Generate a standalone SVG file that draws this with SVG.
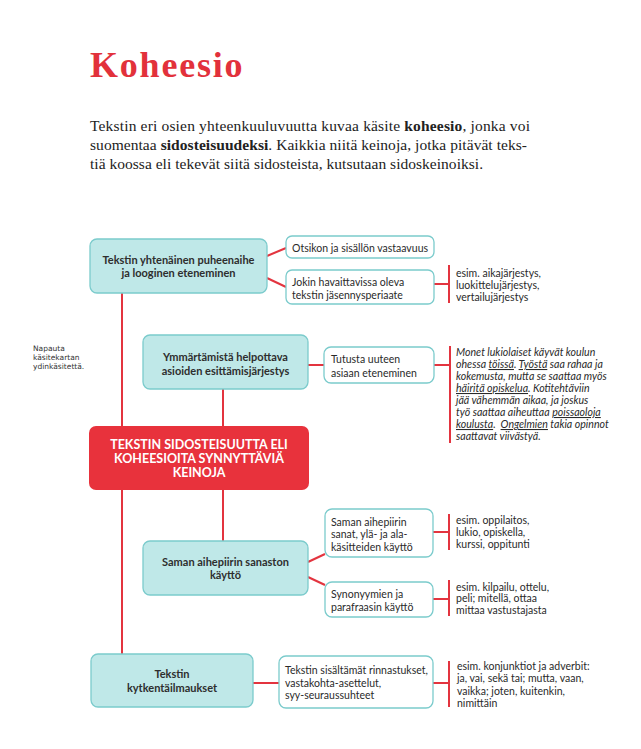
<svg xmlns="http://www.w3.org/2000/svg" width="641" height="749" viewBox="0 0 641 749">
<style>
.title{font-family:"Liberation Serif",serif;font-weight:bold;font-size:36px;fill:#e2313b;letter-spacing:1.8px}
.para{font-family:"Liberation Serif",serif;font-size:15.5px;fill:#222}
.para .b{font-weight:bold}
.main{fill:#bfe8e8;stroke:#7bcbcc;stroke-width:1.3}
.sub{fill:#fff;stroke:#7bcbcc;stroke-width:1.3}
.core{fill:#e8323c}
.mt{font-family:Lato,"Noto Sans",sans-serif;font-weight:bold;font-size:11px;fill:#2e2e2e;text-anchor:middle}
.ct{font-family:Lato,"Noto Sans",sans-serif;font-weight:bold;font-size:12.5px;fill:#fff;text-anchor:middle}
.st{font-family:Lato,"Noto Sans",sans-serif;font-size:10.5px;fill:#2a2a2a}
.it{font-family:Lato,"Noto Sans",sans-serif;font-style:italic;font-size:10.6px;fill:#2a2a2a}
.u{text-decoration:underline}
.note{font-family:"DejaVu Sans",sans-serif;font-size:7.5px;fill:#333}
.ln{stroke:#e3343f;stroke-width:2;fill:none}
</style>

<text class="title" x="90" y="77">Koheesio</text>
<g id="intro">
<text class="para" x="90" y="131" textLength="440" lengthAdjust="spacing">Tekstin eri osien yhteenkuuluvuutta kuvaa käsite <tspan class="b">koheesio</tspan>, jonka voi</text>
<text class="para" x="90" y="150" textLength="437" lengthAdjust="spacing">suomentaa <tspan class="b">sidosteisuudeksi</tspan>. Kaikkia niitä keinoja, jotka pitävät teks-</text>
<text class="para" x="90" y="169" textLength="393" lengthAdjust="spacing">tiä koossa eli tekevät siitä sidosteista, kutsutaan sidoskeinoiksi.</text>
</g>

<g id="connectors">
<line class="ln" x1="122" y1="293" x2="122" y2="654"/>
<line class="ln" x1="223" y1="389" x2="223" y2="426"/>
<line class="ln" x1="223" y1="490" x2="223" y2="541"/>
<line class="ln" x1="267" y1="256" x2="286" y2="248"/>
<line class="ln" x1="267" y1="278" x2="286" y2="287"/>
<line class="ln" x1="434" y1="284" x2="449" y2="284"/>
<line class="ln" x1="449" y1="265" x2="449" y2="303"/>
<line class="ln" x1="308" y1="365" x2="324" y2="365"/>
<line class="ln" x1="434" y1="365" x2="450" y2="365"/>
<line class="ln" x1="450" y1="346" x2="450" y2="443"/>
<line class="ln" x1="308" y1="562" x2="325" y2="554"/>
<line class="ln" x1="308" y1="577" x2="325" y2="585"/>
<line class="ln" x1="433" y1="532" x2="449" y2="532"/>
<line class="ln" x1="449" y1="514" x2="449" y2="550"/>
<line class="ln" x1="433" y1="599" x2="449" y2="599"/>
<line class="ln" x1="449" y1="580" x2="449" y2="616"/>
<line class="ln" x1="253" y1="683" x2="279" y2="683"/>
<line class="ln" x1="433" y1="683" x2="449" y2="683"/>
<line class="ln" x1="449" y1="661" x2="449" y2="707"/>
</g>

<g id="note">
<text class="note" x="33" y="351">Napauta</text>
<text class="note" x="33" y="360">käsitekartan</text>
<text class="note" x="33" y="369">ydinkäsitettä.</text>
</g>

<g id="n-puheenaihe">
<rect class="main" x="90" y="239" width="177" height="54" rx="7"/>
<text class="mt" x="178.5" y="264">Tekstin yhtenäinen puheenaihe</text>
<text class="mt" x="178.5" y="277">ja looginen eteneminen</text>
</g>
<g id="n-otsikon">
<rect class="sub" x="286" y="236" width="148" height="22" rx="6"/>
<text class="st" x="292" y="251.5">Otsikon ja sisällön vastaavuus</text>
</g>
<g id="n-jokin">
<rect class="sub" x="286" y="270" width="148" height="34" rx="6"/>
<text class="st" x="292" y="285.5">Jokin havaittavissa oleva</text>
<text class="st" x="292" y="298.5">tekstin jäsennysperiaate</text>
</g>
<g id="e-jarjestys">
<text class="st" x="456" y="277">esim. aikajärjestys,</text>
<text class="st" x="456" y="289">luokittelujärjestys,</text>
<text class="st" x="456" y="301">vertailujärjestys</text>
</g>

<g id="n-ymmartamista">
<rect class="main" x="143" y="335" width="165" height="54" rx="7"/>
<text class="mt" x="225.5" y="361">Ymmärtämistä helpottava</text>
<text class="mt" x="225.5" y="375">asioiden esittämisjärjestys</text>
</g>
<g id="n-tutusta">
<rect class="sub" x="324" y="347" width="110" height="36" rx="7"/>
<text class="st" x="331" y="362.5">Tutusta uuteen</text>
<text class="st" x="331" y="376.5">asiaan eteneminen</text>
</g>
<g id="e-esimerkki">
<text class="it" x="456" y="356">Monet lukiolaiset käyvät koulun</text>
<text class="it" x="456" y="368">ohessa <tspan class="u">töissä</tspan>. <tspan class="u">Työstä</tspan> saa rahaa ja</text>
<text class="it" x="456" y="380">kokemusta, mutta se saattaa myös</text>
<text class="it" x="456" y="392"><tspan class="u">häiritä opiskelua</tspan>. Kotitehtäviin</text>
<text class="it" x="456" y="404">jää vähemmän aikaa, ja joskus</text>
<text class="it" x="456" y="416">työ saattaa aiheuttaa <tspan class="u">poissaoloja</tspan></text>
<text class="it" x="456" y="428"><tspan class="u">koulusta</tspan>.&#160; <tspan class="u">Ongelmien</tspan> takia opinnot</text>
<text class="it" x="456" y="440">saattavat viivästyä.</text>
</g>

<g id="n-core">
<rect class="core" x="89" y="426" width="220" height="64" rx="7"/>
<text class="ct" x="199" y="449">TEKSTIN SIDOSTEISUUTTA ELI</text>
<text class="ct" x="199" y="463">KOHEESIOITA SYNNYTTÄVIÄ</text>
<text class="ct" x="199" y="477">KEINOJA</text>
</g>

<g id="n-sanasto">
<rect class="main" x="143" y="541" width="165" height="54" rx="7"/>
<text class="mt" x="225.5" y="566">Saman aihepiirin sanaston</text>
<text class="mt" x="225.5" y="579">käyttö</text>
</g>
<g id="n-sanat">
<rect class="sub" x="325" y="509" width="108" height="48" rx="7"/>
<text class="st" x="331" y="525.5">Saman aihepiirin</text>
<text class="st" x="331" y="538">sanat, ylä- ja ala-</text>
<text class="st" x="331" y="550.5">käsitteiden käyttö</text>
</g>
<g id="e-oppilaitos">
<text class="st" x="456" y="523.5">esim. oppilaitos,</text>
<text class="st" x="456" y="535.5">lukio, opiskella,</text>
<text class="st" x="456" y="547.5">kurssi, oppitunti</text>
</g>
<g id="n-synonyymit">
<rect class="sub" x="325" y="582" width="108" height="35" rx="7"/>
<text class="st" x="331" y="597.5">Synonyymien ja</text>
<text class="st" x="331" y="610.5">parafraasin käyttö</text>
</g>
<g id="e-kilpailu">
<text class="st" x="456" y="590.5">esim. kilpailu, ottelu,</text>
<text class="st" x="456" y="602">peli; mitellä, ottaa</text>
<text class="st" x="456" y="613.5">mittaa vastustajasta</text>
</g>

<g id="n-kytkenta">
<rect class="main" x="91" y="654" width="162" height="53" rx="7"/>
<text class="mt" x="172" y="678">Tekstin</text>
<text class="mt" x="172" y="692">kytkentäilmaukset</text>
</g>
<g id="n-rinnastukset">
<rect class="sub" x="279" y="656" width="154" height="52" rx="7"/>
<text class="st" x="285" y="673.5">Tekstin sisältämät rinnastukset,</text>
<text class="st" x="285" y="686.5">vastakohta-asettelut,</text>
<text class="st" x="285" y="699">syy-seuraussuhteet</text>
</g>
<g id="e-konjunktiot">
<text class="st" x="457" y="669.5">esim. konjunktiot ja adverbit:</text>
<text class="st" x="457" y="682">ja, vai, sekä tai; mutta, vaan,</text>
<text class="st" x="457" y="694.5">vaikka; joten, kuitenkin,</text>
<text class="st" x="457" y="707">nimittäin</text>
</g>
</svg>
